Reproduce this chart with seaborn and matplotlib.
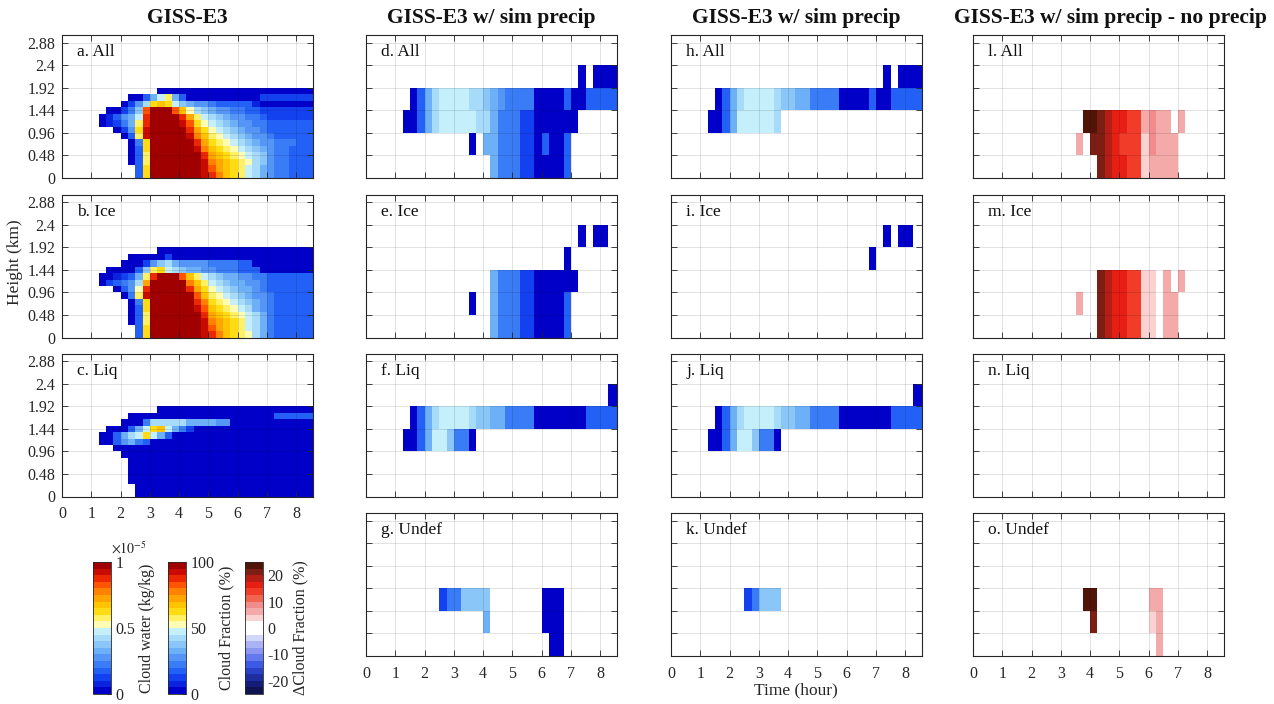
import numpy as np
import matplotlib
matplotlib.use("Agg")
import matplotlib as mpl
import matplotlib.pyplot as plt
from matplotlib.colors import ListedColormap
import seaborn as sns

sns.set_theme(style="white")
plt.rcParams["font.family"] = ["Liberation Serif", "DejaVu Serif"]
plt.rcParams["mathtext.fontset"] = "stix"

# ---------------- axis values ----------------
hour_ticks = [0, 1, 2, 3, 4, 5, 6, 7, 8]
height_ticks = [0, 0.48, 0.96, 1.44, 1.92, 2.4, 2.88]
height_labels = ["0", "0.48", "0.96", "1.44", "1.92", "2.4", "2.88"]
time_step = 0.25          # hours per column
fine_dz = 1.92 / 14       # km per row in GISS-E3 panels
coarse_dz = 0.48          # km per row in simulator panels
time_max = 8.57
height_max = 3.05

# colour classes: '.' = empty, '0'..'j' = 20 classes (low -> high)
LEVELS = "0123456789abcdefghij"

# ---------------- GISS-E3 cloud water (rows top -> bottom) ----------------
giss_all = [
    "............." "0000000000000000000000",
    "........." "00369b63" "000000000" "022222222",
    "........" "0258cdc976554" "33333" "1" "00000000",
    "......" "0024" "7gjjjgda87655443" "3" "22222222",
    "....." "013569" "hjjjjheb98765" "5443" "2222222",
    "....." "01246b" "hjjjjigca9876" "5544" "3333333",
    "......." "025ci" "jjjjj" "heca98765" "5" "4" "3333333",
    "........" "03bi" "jjjjj" "ifdba98765" "54" "333333",
    "........." "04c" "jjjjjj" "hecba98765" "5" "444333",
    "........." "03c" "jjjjjj" "ifdcba9876" "5" "44" "3333",
    "........." "03b" "jjjjjjj" "hedcba987" "5" "44" "3333",
    "........." "03b" "jjjjjjj" "ifedcba87" "5" "44" "3333",
    ".........." "3c" "jjjjjjj" "igedcb986" "5" "44" "3333",
    ".........." "3c" "jjjjjjj" "ihfdcb986" "5" "44" "3333",
]
giss_ice = [
    "............." "0000000000000000000000",
    "........." "00000" "2" "00000000000000000000",
    "........" "000" "2" "5" "7" "8" "6" "5555" "4444" "33" "000000000",
    "......" "0000" "37bc98766554443" "33" "00000000",
    "....." "00123" "6bh" "jjj" "gdb9876655" "44" "3333333",
    "....." "02345" "8e" "jjjjj" "fdb98766554" "3333333",
    "......." "035ah" "jjjjj" "heca98766" "54" "3333333",
    "........" "04bi" "jjjjjj" "gdba987655" "4" "333333",
    "........." "04c" "jjjjjj" "hfcba98765" "4" "333333",
    "........." "03c" "jjjjjj" "igdcba9865" "4" "333333",
    "........." "03b" "jjjjjjj" "hedcba986" "4" "333333",
    "........." "03b" "jjjjjjj" "ifedcb986" "4" "333333",
    ".........." "3c" "jjjjjjj" "igedcb986" "4" "333333",
    ".........." "3c" "jjjjjjj" "ihfdcba86" "4" "333333",
]
giss_liq = [
    "............." "0000000000000000000000",
    "........." "00000000000000000000" "333333",
    "........" "000" "4" "88888" "6666" "55" "000000000000",
    "......" "00" "0" "369cd9642" "00000000000000000",
    "....." "00" "3689c963" "00000000000000000000",
    "....." "00" "35643" "00000000000000000000000",
    "......." "0000000000000000000000000000",
    "........" "000000000000000000000000000",
    "........." "00000000000000000000000000",
    "........." "00000000000000000000000000",
    "........." "00000000000000000000000000",
    "........." "00000000000000000000000000",
    ".........." "0000000000000000000000000",
    ".........." "0000000000000000000000000",
]

# ---------------- simulator cloud fraction (rows 2.4-2.88 ... 0-0.48) -----
sim_all = [
    "...................................",
    "............................." "0" "." "0000",
    "......" "0368" "9999" "88765" "4444" "0000" "3" "00" "33333",
    "....." "00368" "9999" "9886" "444" "22" "000000" "......",
    ".............." "0" "." "66" "444" "22" "0" "3" "00" "3" ".......",
    "................." "6" "444" "22" "0000" "3" ".......",
]
sim_ice = [
    "...................................",
    "............................." "0" "." "00" "..",
    "..........................." "0" ".......",
    "................." "6" "444" "22" "000000" "......",
    ".............." "0" ".." "6" "444" "22" "0000" "3" ".......",
    "................." "6" "444" "22" "0000" "3" ".......",
]
sim_liq = [
    "...................................",
    "................................." "00",
    "......" "0368" "9999" "8" "77" "66" "4444" "0000000" "33333",
    "....." "00" "36" "99" "7" "44" "0" "....................",
    "...................................",
    "...................................",
]
sim_undef = [
    "...................................",
    "...................................",
    "...................................",
    ".........." "2" "44" "7777" "......." "000" "........",
    "................" "6" "......." "000" "........",
    "........................." "00" "........",
]
sim_liq_all = [
    "...................................",
    "............................." "0" "." "0000",
    "......" "0368" "9999" "8" "77" "66" "4444" "0000" "3" "00" "33333",
    "....." "00" "36" "9" "9999" "8" "....................",
    "...................................",
    "...................................",
]
sim_liq_ice = [
    "...................................",
    "............................." "0" "." "00" "..",
    "..........................." "0" ".......",
    "...................................",
    "...................................",
    "...................................",
]
sim_liq_liq = [
    "...................................",
    "................................." "00",
    "......" "0368" "9999" "8" "77" "66" "4444" "0000000" "33333",
    "....." "00" "36" "99" "7" "44" "0" "....................",
    "...................................",
    "...................................",
]
sim_liq_undef = [
    "...................................",
    "...................................",
    "...................................",
    ".........." "2" "4" "777" "....................",
    "...................................",
    "...................................",
]

# ---------------- difference (w/ precip - no precip), classes of +2.5 % ----
diff_all = [
    "...................................",
    "...................................",
    "...................................",
    "..............." "99" "8" "76" "6" "55" "2" "3" "22" "." "2" "......",
    ".............." "2" "." "88765" "55" "1" "3" "222" ".......",
    "................." "876655" "12222" ".......",
]
diff_ice = [
    "...................................",
    "...................................",
    "...................................",
    "................." "876655" "11" "." "2" "." "2" "......",
    ".............." "2" ".." "876655" "11" "." "22" ".......",
    "................." "876655" "11" "." "22" ".......",
]
diff_liq = ["..................................."] * 6
diff_undef = [
    "...................................",
    "...................................",
    "...................................",
    "..............." "99" "......." "22" ".........",
    "................" "8" "......." "12" ".........",
    "........................." "2" ".........",
]

# ---------------- colours ----------------
main_colors = ["#0000c8", "#0a23e1", "#1441f0", "#2360f5", "#3a7cf5",
               "#5595f5", "#6eb0f7", "#8ac6f8", "#a6dcfa", "#c4effb",
               "#fffcb4", "#fff064", "#ffdc14", "#ffc300", "#ffa500",
               "#ff8200", "#ff5500", "#eb2800", "#c80a00", "#a00000"]
diff_colors = ["#0f1450", "#141e78", "#1e2da0", "#2841c8", "#3c5ae6",
               "#6478f0", "#8c96f0", "#aab4f5", "#d2d7fa", "#ffffff",
               "#ffffff", "#fad2d2", "#f5aaaa", "#f08c8c", "#f06450",
               "#f03c28", "#e61e14", "#b41e14", "#7d1e14", "#501408"]
cmap_main = ListedColormap(main_colors)
cmap_diff = ListedColormap(diff_colors)


def decode(rows, scale, offset=0.0):
    bad = [i for i, r in enumerate(rows) if len(r) != len(rows[0])]
    if bad:
        raise ValueError("row length mismatch %s %s" % (bad, [len(r) for r in rows]))
    arr = np.full((len(rows), len(rows[0])), np.nan)
    for i, row in enumerate(rows[::-1]):
        for j, ch in enumerate(row):
            if ch != ".":
                arr[i, j] = offset + (LEVELS.index(ch) + 0.5) * scale
    return arr


W, H = 1274, 704
fig = plt.figure(figsize=(W / 100, H / 100), dpi=100)
col_left = [62, 366, 671, 973]
row_top = [35, 194.5, 353.5, 513]
ax_w, ax_h = 251, 143


def add_ax(col, row):
    return fig.add_axes([col_left[col] / W, 1 - (row_top[row] + ax_h) / H,
                         ax_w / W, ax_h / H])


def panel(col, row, rows, scale, cmap, vmin, vmax, dz, label, show_x, show_y):
    ax = add_ax(col, row)
    arr = decode(rows, scale)
    sns.heatmap(arr, ax=ax, cmap=cmap, vmin=vmin, vmax=vmax, cbar=False,
                xticklabels=False, yticklabels=False)
    ax.set_xlim(0, time_max / time_step)
    ax.set_ylim(0, height_max / dz)
    ax.set_xticks([h / time_step for h in hour_ticks])
    ax.set_yticks([z / dz for z in height_ticks])
    ax.set_xticklabels([str(h) for h in hour_ticks] if show_x else [])
    ax.set_yticklabels(height_labels if show_y else [])
    ax.tick_params(direction="in", length=4, width=0.6, top=True, right=True,
                   bottom=True, left=True, labelsize=11.5, pad=5,
                   labelcolor="#262626", color="#262626")
    ax.tick_params(axis="x", pad=7)
    ax.grid(True, color="black", alpha=0.13, linewidth=0.6)
    ax.set_axisbelow(False)
    for s in ax.spines.values():
        s.set_visible(True)
        s.set_color("#262626")
        s.set_linewidth(0.8)
    ax.text(0.06, 0.935, label, transform=ax.transAxes, ha="left", va="top",
            fontsize=12.5, color="#111111")
    return ax


cw = 1e-5 / 20
cf = 100 / 20
panel(0, 0, giss_all, cw, cmap_main, 0, 1e-5, fine_dz, "a. All", False, True)
panel(0, 1, giss_ice, cw, cmap_main, 0, 1e-5, fine_dz, "b. Ice", False, True)
panel(0, 2, giss_liq, cw, cmap_main, 0, 1e-5, fine_dz, "c. Liq", True, True)

panel(1, 0, sim_all, cf, cmap_main, 0, 100, coarse_dz, "d. All", False, False)
panel(1, 1, sim_ice, cf, cmap_main, 0, 100, coarse_dz, "e. Ice", False, False)
panel(1, 2, sim_liq, cf, cmap_main, 0, 100, coarse_dz, "f. Liq", False, False)
panel(1, 3, sim_undef, cf, cmap_main, 0, 100, coarse_dz, "g. Undef", True, False)

panel(2, 0, sim_liq_all, cf, cmap_main, 0, 100, coarse_dz, "h. All", False, False)
panel(2, 1, sim_liq_ice, cf, cmap_main, 0, 100, coarse_dz, "i. Ice", False, False)
panel(2, 2, sim_liq_liq, cf, cmap_main, 0, 100, coarse_dz, "j. Liq", False, False)
panel(2, 3, sim_liq_undef, cf, cmap_main, 0, 100, coarse_dz, "k. Undef", True, False)

panel(3, 0, diff_all, 2.5, cmap_diff, -25, 25, coarse_dz, "l. All", False, False)
panel(3, 1, diff_ice, 2.5, cmap_diff, -25, 25, coarse_dz, "m. Ice", False, False)
panel(3, 2, diff_liq, 2.5, cmap_diff, -25, 25, coarse_dz, "n. Liq", False, False)
panel(3, 3, diff_undef, 2.5, cmap_diff, -25, 25, coarse_dz, "o. Undef", True, False)

# ---------------- titles and labels ----------------
title_kw = dict(ha="center", va="center", fontsize=15.5, fontweight="bold",
                color="#111111")
fig.text(187.5 / W, 1 - 18 / H, "GISS-E3", **title_kw)
fig.text(491.5 / W, 1 - 18 / H, "GISS-E3 w/ sim precip", **title_kw)
fig.text(796 / W, 1 - 18 / H, "GISS-E3 w/ sim precip", **title_kw)
fig.text(1110 / W, 1 - 18 / H, "GISS-E3 w/ sim precip - no precip", **title_kw)
fig.text(15 / W, 1 - 262 / H, "Height (km)", rotation=90, ha="center",
         va="center", fontsize=12.5)
fig.text(796 / W, 1 - 690 / H, "Time (hour)", ha="center", va="center",
         fontsize=12.5)

# ---------------- colorbars ----------------
cbar_left = [93, 168, 245]
cbar_top, cbar_h, cbar_w = 562, 132, 18


def colorbar(i, cmap, vmin, vmax, ticks, ticklabels, label):
    cax = fig.add_axes([cbar_left[i] / W, 1 - (cbar_top + cbar_h) / H,
                        cbar_w / W, cbar_h / H])
    sm = mpl.cm.ScalarMappable(norm=mpl.colors.Normalize(vmin, vmax), cmap=cmap)
    cb = fig.colorbar(sm, cax=cax)
    cb.set_ticks(ticks)
    cb.set_ticklabels(ticklabels)
    cb.ax.tick_params(direction="in", length=3, width=0.6, labelsize=11.5,
                      pad=3, color="#262626")
    cb.set_label(label, fontsize=11.5, labelpad=3)
    cb.outline.set_linewidth(0.6)
    return cb


colorbar(0, cmap_main, 0, 1e-5, [0, 0.5e-5, 1e-5], ["0", "0.5", "1"],
         "Cloud water (kg/kg)")
colorbar(1, cmap_main, 0, 100, [0, 50, 100], ["0", "50", "100"],
         "Cloud Fraction (%)")
colorbar(2, cmap_diff, -25, 25, [-20, -10, 0, 10, 20],
         ["-20", "-10", "0", "10", "20"], "\u0394Cloud Fraction (%)")
fig.text(111 / W, 1 - 548 / H, r"$\times10^{-5}$", ha="left", va="center",
         fontsize=10)

fig.savefig("out.png", dpi=100)
